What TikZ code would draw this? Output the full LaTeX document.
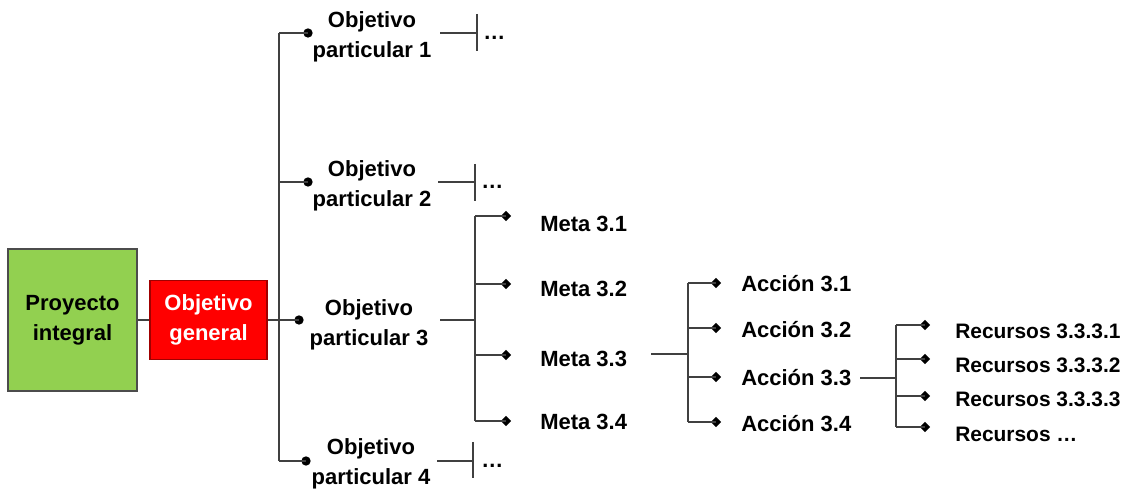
\documentclass[tikz,border=0pt]{standalone}
\usepackage{fontspec}
\setmainfont{Liberation Sans}
\usetikzlibrary{shapes.geometric}
\begin{document}
\begin{tikzpicture}[x=0.75pt,y=-0.75pt,
  conn/.style={draw=black!75,line width=1pt},
  dotn/.style={circle,fill=black,inner sep=0pt,minimum size=7pt},
  dia/.style={diamond,fill=black,inner sep=0pt,minimum width=8pt,minimum height=8pt},
  lbl/.style={font=\bfseries\fontsize{16.5}{22.5}\selectfont,inner sep=0pt,align=center},
  item/.style={font=\bfseries\fontsize{16.5}{20}\selectfont,inner sep=0pt,anchor=base west},
  res/.style={font=\bfseries\fontsize{15.7}{20}\selectfont,inner sep=0pt,anchor=base west},
  ell/.style={font=\bfseries\fontsize{16.5}{20}\selectfont,inner sep=0pt,anchor=base west}
]
\useasboundingbox (0,0) rectangle (1125,491);

% main boxes
\node[draw=black!70,line width=0.8pt,fill={rgb,255:red,146;green,208;blue,80},minimum width=96.75pt,minimum height=106.5pt,lbl] (pi) at (72.5,320) {Proyecto\\integral};
\node[draw={rgb,255:red,160;green,0;blue,0},line width=0.8pt,fill=red,minimum width=87.75pt,minimum height=59.25pt,lbl,text=white] (og) at (208.5,320) {Objetivo\\general};
\draw[conn] (pi) -- (og);

% main bus
\coordinate (b1) at (279,33);
\coordinate (b2) at (279,182);
\coordinate (b3) at (279,320);
\coordinate (b4) at (279,461);
\draw[conn] (b1) -- (b4);
\draw[conn] (og) -- (b3);

\node[dotn] (d1) at (308,33) {};
\node[dotn] (d2) at (308,182) {};
\node[dotn] (d3) at (299,320) {};
\node[dotn] (d4) at (306,461) {};
\draw[conn] (b1) -- (d1.center);
\draw[conn] (b2) -- (d2.center);
\draw[conn] (b3) -- (d3.center);
\draw[conn] (b4) -- (d4.center);

\node[lbl] (op1) at (372,37) {Objetivo\\particular 1};
\node[lbl] (op2) at (372,186) {Objetivo\\particular 2};
\node[lbl] (op3) at (369,325) {Objetivo\\particular 3};
\node[lbl] (op4) at (371,464) {Objetivo\\particular 4};

% truncated branches
\coordinate (r1a) at (440,33); \coordinate (r1b) at (477,33);
\coordinate (t1a) at (477,14); \coordinate (t1b) at (477,51);
\draw[conn] (r1a) -- (r1b); \draw[conn] (t1a) -- (t1b);
\node[ell] (e1) at (483,40) {…};

\coordinate (r2a) at (438,182); \coordinate (r2b) at (475,182);
\coordinate (t2a) at (475,164); \coordinate (t2b) at (475,201);
\draw[conn] (r2a) -- (r2b); \draw[conn] (t2a) -- (t2b);
\node[ell] (e2) at (481,189) {…};

\coordinate (r4a) at (437,461); \coordinate (r4b) at (473,461);
\coordinate (t4a) at (473,442); \coordinate (t4b) at (473,478);
\draw[conn] (r4a) -- (r4b); \draw[conn] (t4a) -- (t4b);
\node[ell] (e4) at (481,468) {…};

% metas
\coordinate (r3a) at (440,320); \coordinate (r3b) at (475,320);
\draw[conn] (r3a) -- (r3b);
\coordinate (mb1) at (475,216);
\coordinate (mb2) at (475,284);
\coordinate (mb3) at (475,355);
\coordinate (mb4) at (475,421);
\draw[conn] (mb1) -- (mb4);
\node[dia] (md1) at (506,216) {};
\node[dia] (md2) at (506,284) {};
\node[dia] (md3) at (506,355) {};
\node[dia] (md4) at (506,421) {};
\draw[conn] (mb1) -- (md1.center);
\draw[conn] (mb2) -- (md2.center);
\draw[conn] (mb3) -- (md3.center);
\draw[conn] (mb4) -- (md4.center);
\node[item] (m1) at (540,232) {Meta 3.1};
\node[item] (m2) at (540,297) {Meta 3.2};
\node[item] (m3) at (540,367) {Meta 3.3};
\node[item] (m4) at (540,430) {Meta 3.4};

% acciones
\coordinate (ma) at (651,354); \coordinate (mab) at (688,354);
\draw[conn] (ma) -- (mab);
\coordinate (ab1) at (688,283);
\coordinate (ab2) at (688,328);
\coordinate (ab3) at (688,377);
\coordinate (ab4) at (688,422);
\draw[conn] (ab1) -- (ab4);
\node[dia] (ad1) at (716,283) {};
\node[dia] (ad2) at (716,328) {};
\node[dia] (ad3) at (716,377) {};
\node[dia] (ad4) at (716,422) {};
\draw[conn] (ab1) -- (ad1.center);
\draw[conn] (ab2) -- (ad2.center);
\draw[conn] (ab3) -- (ad3.center);
\draw[conn] (ab4) -- (ad4.center);
\node[item] (a1) at (741,292) {Acción 3.1};
\node[item] (a2) at (741,338) {Acción 3.2};
\node[item] (a3) at (741,386) {Acción 3.3};
\node[item] (a4) at (741,432) {Acción 3.4};

% recursos
\coordinate (ar) at (860,378); \coordinate (arb) at (896,378);
\draw[conn] (ar) -- (arb);
\coordinate (rb1) at (896,325);
\coordinate (rb2) at (896,359);
\coordinate (rb3) at (896,396);
\coordinate (rb4) at (896,427);
\draw[conn] (rb1) -- (rb4);
\node[dia] (rd1) at (925,325) {};
\node[dia] (rd2) at (925,359) {};
\node[dia] (rd3) at (925,396) {};
\node[dia] (rd4) at (925,427) {};
\draw[conn] (rb1) -- (rd1.center);
\draw[conn] (rb2) -- (rd2.center);
\draw[conn] (rb3) -- (rd3.center);
\draw[conn] (rb4) -- (rd4.center);
\node[res] (rs1) at (955,339) {Recursos 3.3.3.1};
\node[res] (rs2) at (955,373) {Recursos 3.3.3.2};
\node[res] (rs3) at (955,407) {Recursos 3.3.3.3};
\node[res] (rs4) at (955,442) {Recursos …};
\end{tikzpicture}
\end{document}
